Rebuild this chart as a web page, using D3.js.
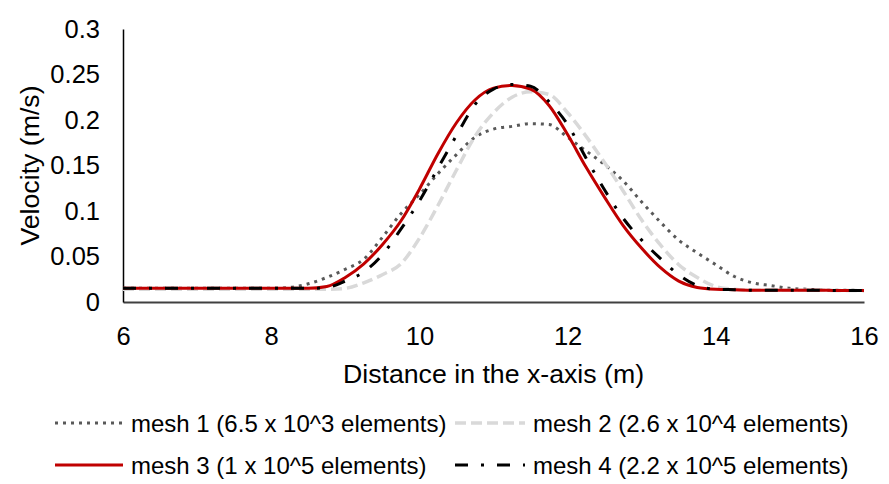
<!DOCTYPE html>
<html>
<head>
<meta charset="utf-8">
<script src="https://cdn.jsdelivr.net/npm/d3@7"></script>
<style>
  html, body { margin: 0; padding: 0; background: #fff; }
  svg { display: block; font-family: "Liberation Sans", Arial, sans-serif; }
</style>
</head>
<body>
<svg id="chart" width="889" height="484"></svg>
<script>
// ---- data ----
const xValues = [6, 6.25, 6.5, 6.75, 7, 7.25, 7.5, 7.75, 8, 8.25, 8.5, 8.75, 9, 9.25, 9.5, 9.75, 10, 10.25, 10.5, 10.75, 11, 11.25, 11.5, 11.75, 12, 12.25, 12.5, 12.75, 13, 13.25, 13.5, 13.75, 14, 14.25, 14.5, 14.75, 15, 15.25, 15.5, 15.75, 16];
const mesh1 = [0.015, 0.015, 0.015, 0.015, 0.015, 0.015, 0.015, 0.015, 0.015, 0.016, 0.020, 0.027, 0.036, 0.047, 0.071, 0.097, 0.118, 0.141, 0.162, 0.181, 0.190, 0.193, 0.196, 0.195, 0.181, 0.166, 0.151, 0.133, 0.110, 0.088, 0.068, 0.054, 0.041, 0.028, 0.021, 0.018, 0.015, 0.014, 0.013, 0.013, 0.0125];
const mesh2 = [0.014, 0.014, 0.014, 0.014, 0.014, 0.014, 0.014, 0.014, 0.014, 0.014, 0.014, 0.014, 0.015, 0.021, 0.030, 0.042, 0.070, 0.106, 0.145, 0.182, 0.208, 0.225, 0.231, 0.228, 0.208, 0.182, 0.153, 0.122, 0.090, 0.063, 0.041, 0.027, 0.017, 0.014, 0.013, 0.013, 0.013, 0.013, 0.0128, 0.0126, 0.0125];
const mesh3 = [0.015, 0.015, 0.015, 0.015, 0.015, 0.015, 0.015, 0.015, 0.015, 0.015, 0.015, 0.017, 0.027, 0.042, 0.063, 0.089, 0.124, 0.163, 0.197, 0.222, 0.235, 0.238, 0.234, 0.216, 0.184, 0.148, 0.115, 0.084, 0.059, 0.038, 0.023, 0.016, 0.014, 0.0135, 0.013, 0.013, 0.013, 0.013, 0.0128, 0.0126, 0.0125];
const mesh4 = [0.015, 0.015, 0.015, 0.015, 0.015, 0.015, 0.015, 0.015, 0.015, 0.015, 0.015, 0.016, 0.023, 0.033, 0.052, 0.080, 0.111, 0.147, 0.183, 0.217, 0.234, 0.239, 0.237, 0.220, 0.195, 0.158, 0.123, 0.092, 0.068, 0.048, 0.030, 0.018, 0.014, 0.0135, 0.013, 0.013, 0.013, 0.013, 0.0128, 0.0126, 0.0125];
const seriesNames = ["mesh 1 (6.5 x 10^3 elements)", "mesh 2 (2.6 x 10^4 elements)", "mesh 3 (1 x 10^5 elements)", "mesh 4 (2.2 x 10^5 elements)"];
const xTicks = [6, 8, 10, 12, 14, 16];
const yTicks = [0, 0.05, 0.1, 0.15, 0.2, 0.25, 0.3];
const xTitle = "Distance in the x-axis (m)";
const yTitle = "Velocity (m/s)";

// ---- styles ----
const styles = [
  { color: "#595959", width: 3, dash: "3,5", cap: "butt" },
  { color: "#D9D9D9", width: 3.5, dash: "11,5", cap: "butt" },
  { color: "#C00000", width: 3, dash: null, cap: "butt" },
  { color: "#000000", width: 3, dash: "13,13,3,13", cap: "butt" }
];

const svg = d3.select("#chart");
const plotLeft = 123, plotRight = 864, plotTop = 29, plotBottom = 302;

const x = d3.scaleLinear().domain([6, 16]).range([plotLeft, plotRight]);
const y = d3.scaleLinear().domain([0, 0.3]).range([plotBottom, plotTop]);

// axes
const xAxis = svg.append("g")
  .attr("transform", `translate(0,${plotBottom})`)
  .call(d3.axisBottom(x).tickValues(xTicks).tickSize(0).tickPadding(25).tickFormat(d3.format("d")));
xAxis.select(".domain").attr("stroke", "#404040").attr("stroke-width", 2);
xAxis.selectAll("text").attr("font-size", 25.5).attr("fill", "#000").attr("font-family", "Liberation Sans, Arial, sans-serif");

const yAxis = svg.append("g")
  .attr("transform", `translate(${plotLeft},0)`)
  .call(d3.axisLeft(y).tickValues(yTicks).tickSize(0).tickPadding(23).tickFormat(d => d === 0 ? "0" : String(d)));
yAxis.select(".domain").attr("stroke", "#000").attr("stroke-width", 1.5);
yAxis.selectAll("text").attr("font-size", 25.5).attr("fill", "#000").attr("font-family", "Liberation Sans, Arial, sans-serif");

// titles
svg.append("text")
  .attr("x", (plotLeft + plotRight) / 2).attr("y", 374)
  .attr("text-anchor", "middle").attr("dominant-baseline", "central")
  .attr("font-size", 26.7).attr("fill", "#000")
  .text(xTitle);
svg.append("text")
  .attr("transform", `translate(30,${(plotTop + plotBottom) / 2}) rotate(-90)`)
  .attr("text-anchor", "middle").attr("dominant-baseline", "central")
  .attr("font-size", 26.7).attr("fill", "#000")
  .text(yTitle);

// lines
const allSeries = [mesh1, mesh2, mesh3, mesh4];
const line = d3.line()
  .x((d, i) => x(xValues[i]))
  .y(d => y(d))
  .curve(d3.curveMonotoneX);

allSeries.forEach((s, i) => {
  const st = styles[i];
  svg.append("path")
    .datum(s)
    .attr("fill", "none")
    .attr("stroke", st.color)
    .attr("stroke-width", st.width)
    .attr("stroke-linecap", st.cap)
    .attr("stroke-linejoin", "round")
    .attr("stroke-dasharray", st.dash)
    .attr("d", line);
});

// legend
const legendPos = [
  { lx: 55, ly: 423, tx: 131 },
  { lx: 455, ly: 423, tx: 533 },
  { lx: 55, ly: 465, tx: 131 },
  { lx: 455, ly: 465, tx: 533 }
];
const legendLen = [68, 70, 68, 70];
seriesNames.forEach((name, i) => {
  const st = styles[i];
  const p = legendPos[i];
  svg.append("line")
    .attr("x1", p.lx).attr("x2", p.lx + legendLen[i])
    .attr("y1", p.ly).attr("y2", p.ly)
    .attr("stroke", st.color)
    .attr("stroke-width", st.width)
    .attr("stroke-linecap", st.cap)
    .attr("stroke-dasharray", st.dash);
  svg.append("text")
    .attr("x", p.tx).attr("y", p.ly)
    .attr("dominant-baseline", "central")
    .attr("font-size", 24).attr("fill", "#000")
    .text(name);
});
</script>
</body>
</html>
